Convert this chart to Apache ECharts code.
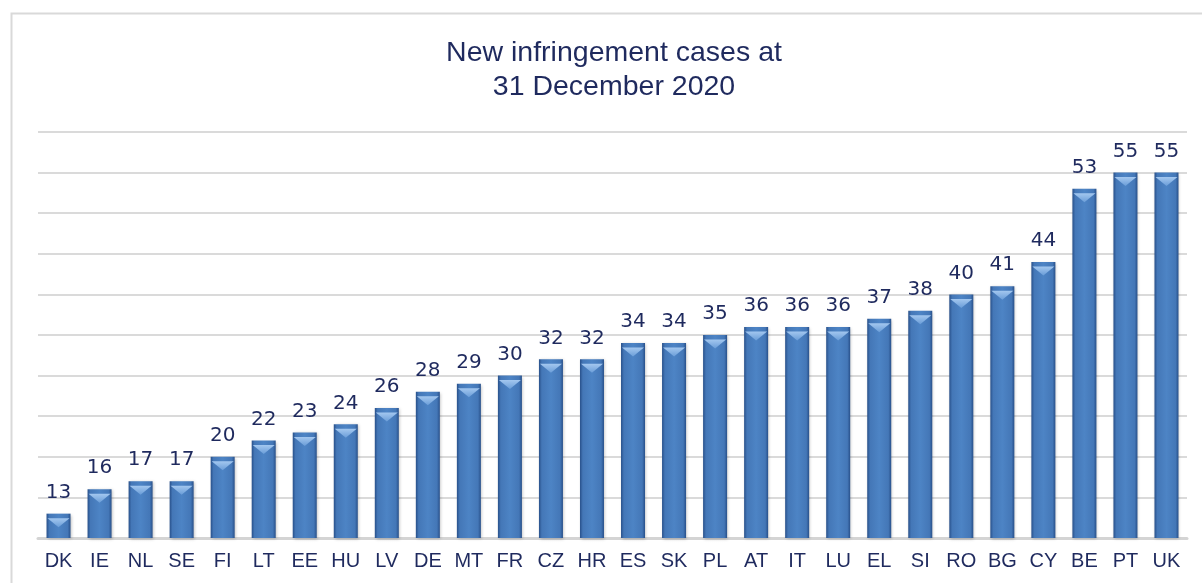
<!DOCTYPE html>
<html>
<head>
<meta charset="utf-8">
<script src="https://cdn.jsdelivr.net/npm/echarts@6/dist/echarts.min.js"></script>
<style>
html,body{margin:0;padding:0;background:#fff;}
#chart{width:1202px;height:583px;}
</style>
</head>
<body>
<div id="chart"></div>
<script>
const titleText = 'New infringement cases at\n31 December 2020';
const categories = ['DK','IE','NL','SE','FI','LT','EE','HU','LV','DE','MT','FR','CZ','HR','ES','SK','PL','AT','IT','LU','EL','SI','RO','BG','CY','BE','PT','UK'];
const cases = [13,16,17,17,20,22,23,24,26,28,29,30,32,32,34,34,35,36,36,36,37,38,40,41,44,53,55,55];
const yMin = 10, yMax = 60, yStep = 5;

const navy = '#1f2a5e';
const chart = echarts.init(document.getElementById('chart'), null, {renderer: 'canvas'});
chart.setOption({
  animation: false,
  backgroundColor: '#ffffff',
  graphic: [{
    type: 'rect',
    left: 9, top: 11,
    shape: {width: 1400, height: 800},
    style: {fill: 'none', stroke: '#d9d9d9', lineWidth: 2},
    silent: true, z: -10
  }],
  title: {
    text: titleText,
    left: 609, top: 31,
    textAlign: 'center',
    textStyle: {
      fontFamily: 'Liberation Sans, Arial, sans-serif',
      fontSize: 28.5, fontWeight: 'normal', lineHeight: 34, color: navy
    }
  },
  grid: {left: 38, right: 15, top: 132, bottom: 45, containLabel: false},
  xAxis: {
    type: 'category',
    data: categories,
    axisLine: {lineStyle: {color: '#d4d4d4', width: 3}},
    axisTick: {show: false},
    axisLabel: {
      margin: 13, interval: 0,
      fontFamily: 'Liberation Sans, Arial, sans-serif',
      fontSize: 20, color: navy
    }
  },
  yAxis: {
    type: 'value',
    min: yMin, max: yMax, interval: yStep,
    axisLine: {show: false},
    axisTick: {show: false},
    axisLabel: {show: false},
    splitLine: {lineStyle: {color: '#dadada', width: 2}}
  },
  series: [
    {
      type: 'bar',
      data: cases,
      barWidth: 24,
      itemStyle: {
        color: new echarts.graphic.LinearGradient(0, 0, 1, 0, [
          {offset: 0, color: '#28508a'},
          {offset: 0.12, color: '#4477b7'},
          {offset: 0.5, color: '#4d84c5'},
          {offset: 0.88, color: '#4477b7'},
          {offset: 1, color: '#28508a'}
        ]),
        shadowColor: 'rgba(0,0,0,0.25)', shadowBlur: 3, shadowOffsetX: 1, shadowOffsetY: 1
      },
      label: {
        show: true, position: 'top', distance: 11,
        fontFamily: 'DejaVu Sans, Verdana, sans-serif',
        fontSize: 20, color: navy
      },
      z: 2
    },
    {
      type: 'pictorialBar',
      data: cases,
      symbol: 'path://M0,0 L24,0 L12,9 Z',
      symbolSize: [22, 9],
      symbolPosition: 'end',
      symbolOffset: [0, '50%'],
      itemStyle: {
        color: new echarts.graphic.LinearGradient(0, 0, 0, 1, [
          {offset: 0, color: '#a3c7ef'},
          {offset: 1, color: '#6a9dd8'}
        ])
      },
      silent: true,
      z: 3
    }
  ]
});
</script>
</body>
</html>
